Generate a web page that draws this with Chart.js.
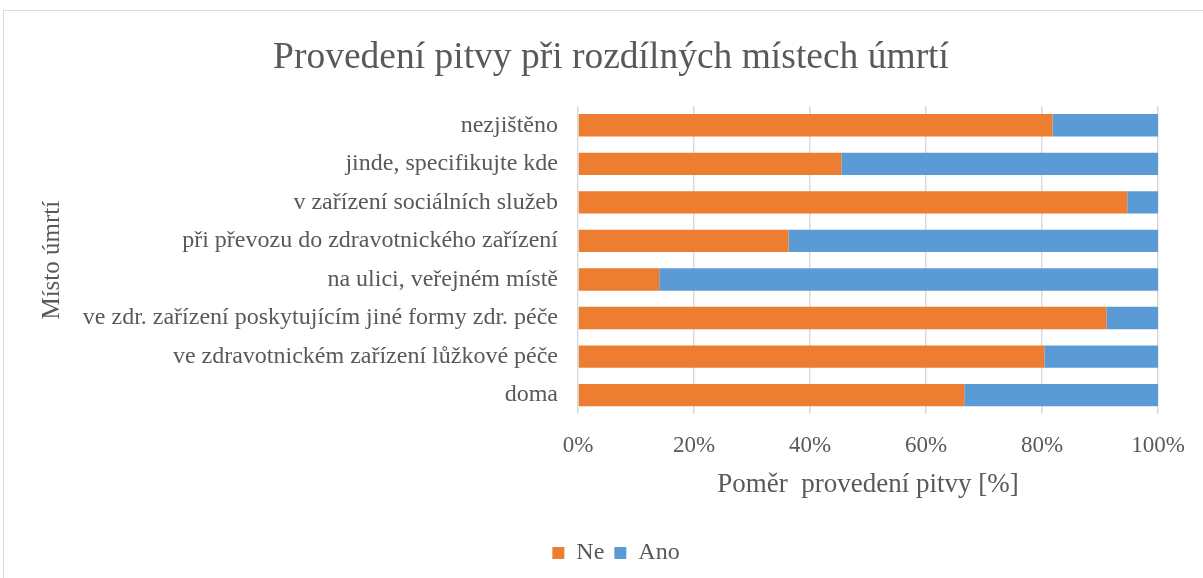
<!DOCTYPE html>
<html lang="cs">
<head>
<meta charset="utf-8">
<title>Provedení pitvy</title>
<script src="https://cdn.jsdelivr.net/npm/chart.js@4"></script>
<style>
  body { margin: 0; background: #fff; }
  #wrap { position: relative; width: 1203px; height: 578px; overflow: hidden; }
  #frame { position: absolute; left: 3px; top: 10px; width: 1230px; height: 600px; border: 1px solid #d9d9d9; }
  #chart { position: absolute; left: 0; top: 0; }
</style>
</head>
<body>
<div id="wrap">
  <div id="frame"></div>
  <canvas id="chart" width="1203" height="578"></canvas>
</div>
<script>
const categories = [
  "nezjištěno",
  "jinde, specifikujte kde",
  "v zařízení sociálních služeb",
  "při převozu do zdravotnického zařízení",
  "na ulici, veřejném místě",
  "ve zdr. zařízení poskytujícím jiné formy zdr. péče",
  "ve zdravotnickém zařízení lůžkové péče",
  "doma",
];
const neValues = [81.8, 45.4, 94.7, 36.3, 14.0, 91.1, 80.4, 66.6];
const anoValues = [18.2, 54.6, 5.3, 63.7, 86.0, 8.9, 19.6, 33.4];
const xTicks = [0, 20, 40, 60, 80, 100];

const serif = '"Liberation Serif", "Times New Roman", serif';
const textColor = "#595959";

// title and legend sit a bit right of the canvas centre in the original
const shiftBoxes = {
  id: "shiftBoxes",
  afterLayout(chart) {
    const moves = [[chart.titleBlock, 22], [chart.legend, 27]];
    moves.forEach(([box, dx]) => {
      if (!box) return;
      box.left += dx;
      box.right += dx;
    });
  },
};

document.addEventListener("DOMContentLoaded", () => {
  const ctx = document.getElementById("chart").getContext("2d");

  new Chart(ctx, {
    type: "bar",
    data: {
      labels: categories,
      datasets: [
        {
          label: "Ne",
          data: neValues,
          backgroundColor: "#ED7D31",
          borderWidth: 0,
          barPercentage: 0.58,
          categoryPercentage: 1,
        },
        {
          label: "Ano",
          data: anoValues,
          backgroundColor: "#5B9BD5",
          borderWidth: 0,
          barPercentage: 0.58,
          categoryPercentage: 1,
        },
      ],
    },
    plugins: [shiftBoxes],
    options: {
      indexAxis: "y",
      responsive: false,
      devicePixelRatio: 1,
      animation: false,
      layout: { padding: { left: 20, right: 45, top: 0, bottom: 3 } },
      scales: {
        x: {
          stacked: true,
          min: 0,
          max: 100,
          afterBuildTicks: (scale) => {
            scale.ticks = xTicks.map((v) => ({ value: v }));
          },
          grid: {
            color: "#d9d9d9",
            lineWidth: 1.5,
            drawTicks: true,
            tickLength: 17.6,
            tickColor: "transparent",
          },
          border: { display: false },
          ticks: {
            padding: 0,
            color: textColor,
            font: { family: serif, size: 23 },
            callback: (v) => v + "%",
          },
          title: {
            display: true,
            text: "Poměr  provedení pitvy [%]",
            color: textColor,
            font: { family: serif, size: 27 },
            padding: { top: 9, bottom: 30 },
          },
        },
        y: {
          stacked: true,
          afterFit: (scale) => {
            scale.width = 558;
          },
          grid: { display: false, drawTicks: false },
          border: { display: false },
          ticks: {
            padding: 20,
            color: textColor,
            font: { family: serif, size: 24 },
          },
          title: {
            display: true,
            text: "Místo úmrtí",
            color: textColor,
            font: { family: serif, size: 25 },
            padding: { top: 17, bottom: 0 },
          },
        },
      },
      plugins: {
        title: {
          display: true,
          text: "Provedení pitvy při rozdílných místech úmrtí",
          color: textColor,
          font: { family: serif, size: 37.5, weight: "normal" },
          padding: { top: 36, bottom: 25 },
        },
        legend: {
          position: "bottom",
          labels: {
            boxWidth: 12,
            boxHeight: 12,
            padding: 10,
            color: textColor,
            font: { family: serif, size: 24 },
          },
        },
        tooltip: { enabled: false },
      },
    },
  });
});
</script>
</body>
</html>
